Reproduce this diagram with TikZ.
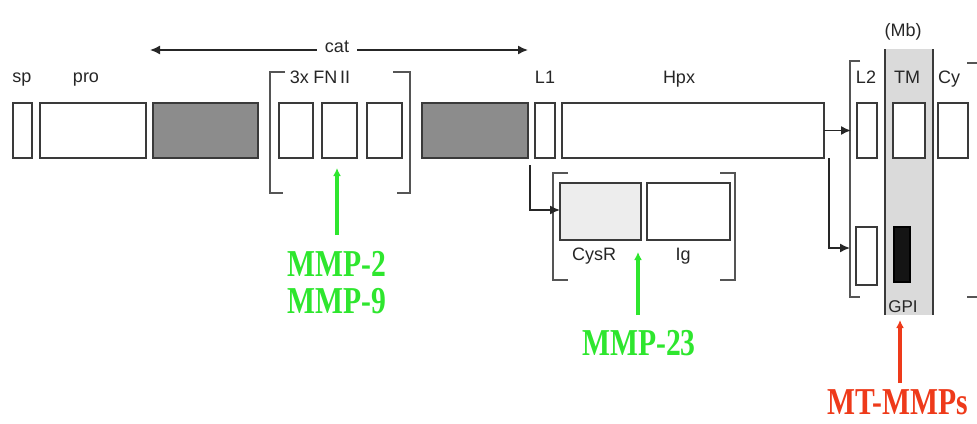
\documentclass[tikz,border=0pt]{standalone}
\usepackage{fontspec}
\usepackage{graphicx}
\setmainfont{Liberation Serif}
\newfontfamily\labfont{Liberation Sans}
\usetikzlibrary{arrows.meta}
\definecolor{boxc}{HTML}{3A3A3A}
\definecolor{darkfill}{HTML}{8C8C8C}
\definecolor{bandfill}{HTML}{DADADA}
\definecolor{brkc}{HTML}{555555}
\definecolor{mmpgreen}{HTML}{2EE62E}
\definecolor{mmpred}{HTML}{EE3A1A}
\newcommand{\enzname}[1]{\scalebox{0.78}[1]{#1}}
\begin{document}
\begin{tikzpicture}[x=1pt,y=-1pt,
  dom/.style={draw=boxc, line width=1.4pt, inner sep=0pt, outer sep=0pt, anchor=north west, fill=white},
  lab/.style={font=\labfont\fontsize{18}{18}\selectfont, text=black!85, inner sep=0pt, anchor=base},
  brk/.style={draw=brkc, line width=1.4pt},
  arr/.style={draw=black!85, line width=1.5pt, -{Latex[length=10pt,width=9pt]}},
  enz/.style={font=\bfseries\fontsize{38}{38}\selectfont, inner sep=0pt, anchor=base},
  enzarr/.style={line width=3.5pt, -{Latex[length=8pt,width=8pt]}}]
\useasboundingbox (0,0) rectangle (977,423);

% membrane band
\node[anchor=north west, fill=bandfill, minimum width=48pt, minimum height=266pt, inner sep=0pt, outer sep=0pt] (mb) at (885,49) {};
\draw[boxc, line width=1.4pt] (mb.north west) -- (mb.south west);
\draw[boxc, line width=1.4pt] (mb.north east) -- (mb.south east);

% main row of domains
\node[dom, minimum width=19pt, minimum height=55pt] (sp) at (13,103) {};
\node[dom, minimum width=106pt, minimum height=55pt] (pro) at (40,103) {};
\node[dom, fill=darkfill, minimum width=105pt, minimum height=55pt] (cat1) at (153,103) {};
\node[dom, minimum width=34pt, minimum height=55pt] (fn1) at (279,103) {};
\node[dom, minimum width=35pt, minimum height=55pt] (fn2) at (322,103) {};
\node[dom, minimum width=35pt, minimum height=55pt] (fn3) at (367,103) {};
\node[dom, fill=darkfill, minimum width=106pt, minimum height=55pt] (cat2) at (422,103) {};
\node[dom, minimum width=20pt, minimum height=55pt] (l1) at (535,103) {};
\node[dom, minimum width=262pt, minimum height=55pt] (hpx) at (562,103) {};
\node[dom, minimum width=20pt, minimum height=55pt] (l2a) at (857,103) {};
\node[dom, minimum width=32pt, minimum height=55pt] (tm) at (893,103) {};
\node[dom, minimum width=30pt, minimum height=55pt] (cy) at (938,103) {};

% alternative C-terminal domains
\node[dom, fill=black!92!white, draw=black, minimum width=16pt, minimum height=55pt] (gpi) at (894,227) {};
\node[dom, minimum width=21pt, minimum height=58pt] (l2b) at (856,227) {};
\node[dom, fill=black!7, minimum width=81pt, minimum height=57pt] (cysr) at (560,183) {};
\node[dom, minimum width=83pt, minimum height=57pt] (ig) at (647,183) {};

% brackets
\draw[brk] (285,72) -- (270,72) -- (270,193) -- (283,193);
\draw[brk] (393,72) -- (410,72) -- (410,193) -- (397,193);
\draw[brk] (568,173) -- (553,173) -- (553,280) -- (568,280);
\draw[brk] (720,173) -- (735,173) -- (735,280) -- (720,280);
\draw[brk] (860,61) -- (850,61) -- (850,297) -- (860,297);
\draw[brk] (967,63) -- (977,63);
\draw[brk] (967,297) -- (977,297);

% labels
\node[lab] (tsp) at (22,82) {sp};
\node[lab] (tpro) at (86,82) {pro};
\node[lab, fill=white, inner xsep=2pt] (tfn) at (320,83) {3x\hspace{0.25em}FN\hspace{0.15em}II};
\node[lab] (tl1) at (545,83) {L1};
\node[lab] (thpx) at (679,83) {Hpx};
\node[lab] (tl2) at (866,83) {L2};
\node[lab] (ttm) at (907,83) {TM};
\node[lab] (tcy) at (949,83) {Cy};
\node[lab] (tmb) at (903,36) {(Mb)};
\node[lab] (tcysr) at (594,260) {CysR};
\node[lab] (tig) at (683,260) {Ig};
\node[lab, font=\labfont\fontsize{17}{17}\selectfont] (tgpi) at (903,312) {GPI};

% cat arrow
\node[lab, anchor=center, inner xsep=8pt, inner ysep=4pt] (tcat) at (337,47) {cat};
\coordinate (catL) at (150,50);
\coordinate (catR) at (528,50);
\draw[arr] (tcat.west |- catL) -- (catL);
\draw[arr] (tcat.east |- catR) -- (catR);

% connectors to alternative domains
\coordinate (l1d) at (530,165);
\coordinate (l1e) at (530,210);
\draw[arr] (l1d) -- (l1e) -- (l1e -| cysr.west);
\draw[arr, shorten >=6pt] (hpx.east) -- (hpx.east -| l2a.west);
\coordinate (hpxd) at (829,158);
\coordinate (hpxe) at (829,248);
\draw[arr, shorten >=6pt] (hpxd) -- (hpxe) -- (hpxe -| l2b.west);

% enzymes
\node[enz, text=mmpgreen] (mmp2) at (337,276) {\enzname{MMP-2}};
\node[enz, text=mmpgreen] (mmp9) at (337,313) {\enzname{MMP-9}};
\coordinate (a29s) at (337,235);
\coordinate (a29) at (337,168);
\draw[enzarr, mmpgreen] (a29s) -- (a29);
\node[enz, text=mmpred] (mt) at (898,414) {\enzname{MT-MMPs}};
\node[enz, text=mmpgreen] (mmp23) at (639,355) {\enzname{MMP-23}};
\coordinate (a23s) at (638,315);
\coordinate (a23) at (638,252);
\draw[enzarr, mmpgreen] (a23s) -- (a23);
\coordinate (amts) at (900,383);
\coordinate (amt) at (900,320);
\draw[enzarr, mmpred] (amts) -- (amt);
\end{tikzpicture}
\end{document}
